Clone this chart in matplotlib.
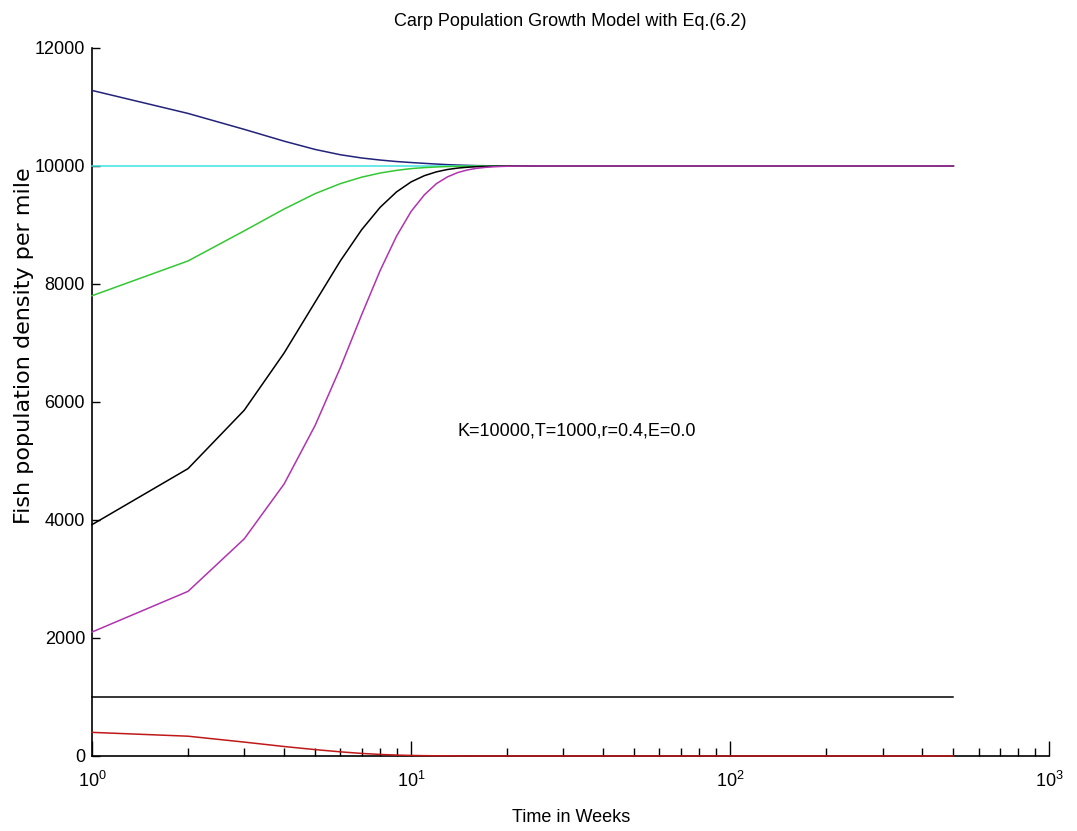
import matplotlib
matplotlib.use("Agg")
import matplotlib.pyplot as plt

# weeks 1..25, then the last step of the run
weeks = list(range(1, 26)) + [500]

above_k = [11280, 10890, 10620, 10420, 10280, 10190, 10135, 10100, 10075, 10058,
	10044, 10032, 10022, 10015, 10010, 10006, 10004, 10002, 10001, 10000,
	10000, 10000, 10000, 10000, 10000, 10000]
at_k = [10000] * 26
start_7800 = [7800, 8390, 8900, 9270, 9530, 9700, 9810, 9880, 9925, 9955,
	9972, 9983, 9990, 9994, 9996, 9998, 9999, 10000, 10000, 10000,
	10000, 10000, 10000, 10000, 10000, 10000]
start_3900 = [3920, 4870, 5860, 6830, 7690, 8390, 8920, 9300, 9560, 9730,
	9835, 9900, 9940, 9964, 9978, 9987, 9992, 9995, 9997, 9998,
	9999, 10000, 10000, 10000, 10000, 10000]
start_2100 = [2100, 2790, 3680, 4610, 5600, 6580, 7480, 8230, 8810, 9230,
	9510, 9700, 9815, 9888, 9932, 9959, 9975, 9985, 9991, 9995,
	9997, 9998, 9999, 10000, 10000, 10000]
at_t = [1000] * 26
below_t = [400, 335, 235, 160, 108, 70, 43, 26, 15, 9,
	5, 3, 2, 1, 0, 0, 0, 0, 0, 0,
	0, 0, 0, 0, 0, 0]

series = [above_k, at_k, start_7800, start_3900, start_2100, at_t, below_t]
colors = ["#22227a", "#3fe3e3", "#33c833", "#000000", "#b033b0", "#000000", "#c01818"]

narrow = ["Liberation Sans Narrow", "Liberation Sans", "DejaVu Sans"]
plt.rcParams["font.family"] = narrow
plt.rcParams["font.size"] = 13

fig = plt.figure(figsize=(10.77, 8.31), dpi=100)
ax = fig.add_axes([0.0854, 0.0903, 0.889, 0.852])

for vals, c in zip(series, colors):
	ax.plot(weeks, vals, color=c, linewidth=1.1, zorder=3, clip_on=False)

ax.set_xscale("log")
ax.set_xlim(1, 1000)
ax.set_ylim(0, 12000)
ax.set_yticks([0, 2000, 4000, 6000, 8000, 10000, 12000])

ax.spines["top"].set_visible(False)
ax.spines["right"].set_visible(False)
ax.spines["left"].set_linewidth(1.2)
ax.spines["bottom"].set_linewidth(1.2)
ax.tick_params(axis="x", which="major", direction="in", length=11, width=1.0, pad=11, labelsize=13)
ax.tick_params(axis="x", which="minor", direction="in", length=6, width=1.0)
ax.tick_params(axis="y", which="major", direction="in", length=6, width=1.0, pad=5, labelsize=13)

ax.set_title("Carp Population Growth Model with Eq.(6.2)", fontsize=13, pad=16)
ax.set_xlabel("Time in Weeks", fontsize=13, labelpad=13)
ax.set_ylabel("Fish population density per mile", fontsize=16, family="DejaVu Sans")
ax.yaxis.set_label_coords(-0.061, 0.58)
ax.text(14, 5500, "K=10000,T=1000,r=0.4,E=0.0", fontsize=13, ha="left", va="center")

fig.savefig("out.png", dpi=100)
